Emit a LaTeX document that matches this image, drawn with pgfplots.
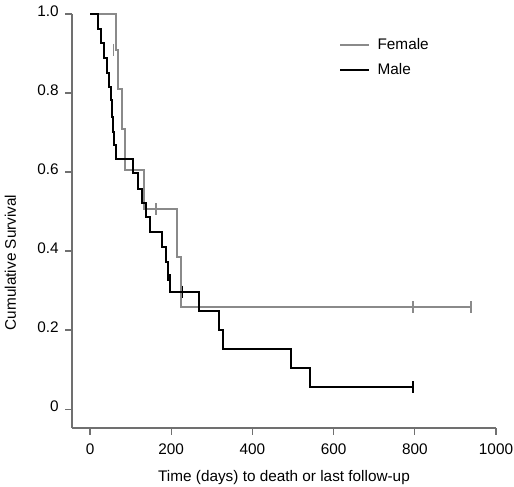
\documentclass[border=0pt]{standalone}
\usepackage{pgfplots}
\pgfplotsset{compat=1.18}
\usepackage{fontspec}
\setmainfont{Liberation Sans}
\definecolor{fem}{HTML}{8A8A8A}
\definecolor{axgray}{HTML}{707070}
\begin{document}
\fontsize{11.5}{13.8}\selectfont
\begin{tikzpicture}
\begin{axis}[
  scale only axis,
  width=318pt, height=310.5pt,
  xmin=-44.4, xmax=1000,
  ymin=-0.048, ymax=1.0,
  axis x line*=bottom, axis y line*=left,
  axis line style={axgray, line width=0.8pt, -},
  xtick={0,200,400,600,800,1000},
  ytick={0,0.2,0.4,0.6,0.8,1.0},
  yticklabels={0,0.2,0.4,0.6,0.8,1.0},
  /pgf/number format/assume math mode=true,
  x tick label style={/pgf/number format/1000 sep={}, yshift=-3pt},
  y tick label style={yshift=2pt, xshift=-1pt},
  tick align=outside,
  major tick length=5pt,
  tick style={axgray, line width=0.8pt},
  ticklabel style={font=\fontsize{11.5}{13.8}\selectfont},
  xlabel={Time (days) to death or last follow-up},
  ylabel={Cumulative Survival},
  xlabel style={at={(axis description cs:0.5,-0.12)}, anchor=center, font=\fontsize{11.5}{13.8}\selectfont},
  ylabel style={at={(axis description cs:-0.145,0.4)}, anchor=center, font=\fontsize{11.5}{13.8}\selectfont},
  clip=false,
  legend style={at={(rel axis cs:0.62,0.955)}, anchor=north west, draw=none, fill=none,
    font=\fontsize{11.5}{13.8}\selectfont, row sep=4.5pt, column sep=4pt},
  legend cell align=left,
  legend image code/.code={\draw[#1] (0cm,0cm) -- (0.75cm,0cm);},
]
\coordinate (ll) at (rel axis cs:0,0);
\coordinate (ur) at (rel axis cs:1,1);
\addplot[fem, line width=1.5pt, const plot mark left] coordinates {
(0,1.0) (63,0.909) (70,0.81) (78,0.71) (86,0.605) (134,0.506) (214,0.385) (225,0.258) (938,0.258)
};
\addlegendentry{Female}
\addplot[black, line width=1.5pt, const plot mark left] coordinates {
(0,1.0) (19,0.962) (26,0.927) (35,0.888) (41,0.851) (47,0.816) (51,0.782) (54,0.740) (57,0.702) (59,0.668) (63,0.632) (105,0.598) (117,0.557) (129,0.522) (137,0.486) (148,0.448) (177,0.411) (187,0.373) (193,0.339) (197,0.297) (269,0.249) (317,0.2) (328,0.152) (496,0.103) (543,0.055) (795,0.055)
};
\addlegendentry{Male}
\addplot[fem, only marks, mark=|, mark size=4.5pt, mark options={line width=1.3pt}, forget plot] coordinates {
(58,0.909) (163,0.506) (795,0.258) (938,0.258)
};
\addplot[black, only marks, mark=|, mark size=4.5pt, mark options={line width=1.3pt}, forget plot] coordinates {
(192,0.339) (228,0.297) (795,0.055)
};
\end{axis}
\pgfresetboundingbox
\path ([shift={(-54pt,-43.5pt)}]ll) rectangle ([shift={(13.5pt,10.5pt)}]ur);
\end{tikzpicture}
\end{document}
